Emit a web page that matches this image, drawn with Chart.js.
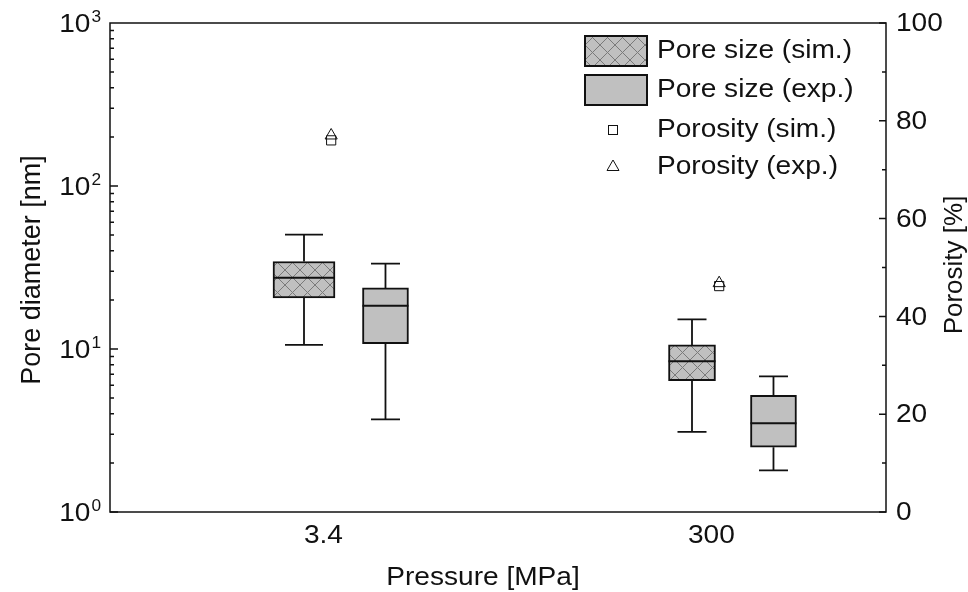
<!DOCTYPE html>
<html>
<head>
<meta charset="utf-8">
<script src="https://cdn.jsdelivr.net/npm/chart.js@4.4.1/dist/chart.umd.min.js"></script>
<style>
html, body { margin: 0; padding: 0; background: #fff; }
</style>
</head>
<body>
<canvas id="myChart" width="968" height="592"></canvas>
<script>
// pressure categories [MPa]
const categories = ['3.4', '300'];
// pore diameter box stats [nm]: [min, q1, median, q3, max]
const poreSim = [[10.6, 20.6, 27.4, 34.4, 50.3], [3.1, 6.4, 8.4, 10.6, 15.2]];
const poreExp = [[3.7, 10.8, 18.4, 23.7, 33.4], [1.8, 2.5, 3.5, 5.2, 6.8]];
// porosity [%]
const porositySim = [76.0, 46.2];
const porosityExp = [77.0, 46.8];
// tick labels
const leftTicks = [1, 10, 100, 1000];
const leftTickExp = ['0', '1', '2', '3'];
const rightTicks = [0, 20, 40, 60, 80, 100];
const legendNames = ['Pore size (sim.)', 'Pore size (exp.)', 'Porosity (sim.)', 'Porosity (exp.)'];

// layout of the category slots on the x scale
const catPos = [1, 3];
const simShift = -0.1, expShift = 0.32, markShift = 0.04;
const simWidth = [62, 47], expWidth = [46, 46];
const simCap = [38, 29], expCap = [29, 29];

const FONT = '"Liberation Sans", Arial, sans-serif';
const FSIZE = 26;
const SX = 1.08;       // text in the original is slightly wide
const INK = '#111';
const BOXFILL = '#c0c0c0';

//////////////////////
// Crosshatch fill  //
//////////////////////
const makeHatch = () => {
    const c = document.createElement('canvas');
    c.width = 15; c.height = 15;
    const g = c.getContext('2d');
    g.fillStyle = BOXFILL;
    g.fillRect(0, 0, 15, 15);
    g.strokeStyle = '#7a7a7a';
    g.lineWidth = 1;
    g.beginPath();
    g.moveTo(0, 0); g.lineTo(15, 15);
    g.moveTo(15, 0); g.lineTo(0, 15);
    g.stroke();
    return document.getElementById('myChart').getContext('2d').createPattern(c, 'repeat');
};
const hatch = makeHatch();

////////////////////
// Build datasets //
////////////////////
let datasets = [];
categories.map((cat, i) => {
    datasets.push({
        type: 'bar',
        label: legendNames[0],
        data: [{x: catPos[i] + simShift, y: [poreSim[i][1], poreSim[i][3]]}],
        backgroundColor: hatch,
        borderColor: INK,
        borderWidth: 2,
        borderSkipped: false,
        barThickness: simWidth[i],
        grouped: false,
        box: poreSim[i],
        cap: simCap[i],
        yAxisID: 'y'
    });
    datasets.push({
        type: 'bar',
        label: legendNames[1],
        data: [{x: catPos[i] + expShift, y: [poreExp[i][1], poreExp[i][3]]}],
        backgroundColor: BOXFILL,
        borderColor: INK,
        borderWidth: 2,
        borderSkipped: false,
        barThickness: expWidth[i],
        grouped: false,
        box: poreExp[i],
        cap: expCap[i],
        yAxisID: 'y'
    });
});
datasets.push({
    type: 'scatter',
    label: legendNames[2],
    data: porositySim.map((v, i) => ({x: catPos[i] + markShift, y: v})),
    pointStyle: 'rect',
    pointRadius: 6.5,
    backgroundColor: 'rgba(0,0,0,0)',
    borderColor: INK,
    borderWidth: 1,
    yAxisID: 'y2'
});
datasets.push({
    type: 'scatter',
    label: legendNames[3],
    data: porosityExp.map((v, i) => ({x: catPos[i] + markShift, y: v})),
    pointStyle: 'triangle',
    pointRadius: 7,
    backgroundColor: 'rgba(0,0,0,0)',
    borderColor: INK,
    borderWidth: 1,
    yAxisID: 'y2'
});

/////////////////////////////
// Whiskers and median bar //
/////////////////////////////
const boxPlugin = {
    id: 'boxWhiskers',
    afterDatasetsDraw(chart) {
        const ctx = chart.ctx;
        const ys = chart.scales.y;
        ctx.save();
        ctx.strokeStyle = INK;
        chart.data.datasets.forEach((ds, di) => {
            if (!ds.box) return;
            const el = chart.getDatasetMeta(di).data[0];
            const x = el.x, half = el.width / 2, capHalf = ds.cap / 2;
            const [mn, q1, med, q3, mx] = ds.box.map(v => ys.getPixelForValue(v));
            ctx.lineWidth = 1.8;
            ctx.beginPath();
            ctx.moveTo(x, q3); ctx.lineTo(x, mx);
            ctx.moveTo(x - capHalf, mx); ctx.lineTo(x + capHalf, mx);
            ctx.moveTo(x, q1); ctx.lineTo(x, mn);
            ctx.moveTo(x - capHalf, mn); ctx.lineTo(x + capHalf, mn);
            ctx.stroke();
            ctx.lineWidth = 2;
            ctx.beginPath();
            ctx.moveTo(x - half, med); ctx.lineTo(x + half, med);
            ctx.stroke();
        });
        ctx.restore();
    }
};

// text helper, widened a little like the original
const drawText = (ctx, str, x, y, align, size, rot) => {
    ctx.save();
    ctx.translate(x, y);
    if (rot) ctx.rotate(rot);
    else ctx.scale(SX, 1);
    ctx.font = (size || FSIZE) + 'px ' + FONT;
    ctx.textAlign = align;
    ctx.fillText(str, 0, 0);
    const w = ctx.measureText(str).width * (rot ? 1 : SX);
    ctx.restore();
    return w;
};

////////////////////////////////////////////
// Frame, inward ticks, labels and legend //
////////////////////////////////////////////
const framePlugin = {
    id: 'frame',
    afterDraw(chart) {
        const ctx = chart.ctx;
        const a = chart.chartArea;
        const xs = chart.scales.x, ys = chart.scales.y, y2 = chart.scales.y2;
        ctx.save();
        ctx.strokeStyle = INK;
        ctx.lineWidth = 1.5;
        ctx.strokeRect(a.left, a.top, a.right - a.left, a.bottom - a.top);
        ctx.beginPath();
        for (let d = 0; d < 3; d++) {
            for (let m = 1; m <= 9; m++) {
                const py = ys.getPixelForValue(m * Math.pow(10, d));
                const len = m === 1 ? 8 : 4;
                ctx.moveTo(a.left, py); ctx.lineTo(a.left + len, py);
            }
        }
        for (let v = 0; v <= 100; v += 10) {
            const py = y2.getPixelForValue(v);
            const len = v % 20 === 0 ? 7 : 4;
            ctx.moveTo(a.right, py); ctx.lineTo(a.right - len, py);
        }
        ctx.stroke();

        ctx.fillStyle = INK;
        ctx.textBaseline = 'middle';
        // x tick labels
        categories.map((c, i) => drawText(ctx, c, xs.getPixelForValue(catPos[i]), 536, 'center'));
        // left tick labels 10^n
        leftTicks.map((v, i) => {
            const py = ys.getPixelForValue(v);
            ctx.textBaseline = 'alphabetic';
            const ew = drawText(ctx, leftTickExp[i], 101, py - 1, 'right', 16);
            ctx.textBaseline = 'middle';
            drawText(ctx, '10', 101 - ew - 1, py + 2, 'right');
        });
        // right tick labels
        rightTicks.map((v) => drawText(ctx, String(v), 896, y2.getPixelForValue(v) + 1, 'left'));

        // axis titles
        drawText(ctx, 'Pressure [MPa]', 483, 578, 'center');
        drawText(ctx, 'Pore diameter [nm]', 33, 270, 'center', 27, -Math.PI / 2);
        drawText(ctx, 'Porosity [%]', 955, 265, 'center', 26, -Math.PI / 2);

        // legend
        ctx.lineWidth = 2;
        ctx.fillStyle = hatch;
        ctx.fillRect(585, 36, 62, 30);
        ctx.strokeRect(585, 36, 62, 30);
        ctx.fillStyle = BOXFILL;
        ctx.fillRect(585, 75, 62, 30);
        ctx.strokeRect(585, 75, 62, 30);
        ctx.lineWidth = 1;
        ctx.strokeRect(608.5, 125.5, 9, 9);
        ctx.beginPath();
        ctx.moveTo(613, 160); ctx.lineTo(619, 170.5); ctx.lineTo(607, 170.5); ctx.closePath();
        ctx.stroke();
        ctx.fillStyle = INK;
        const rows = [51, 90, 130, 167];
        legendNames.map((n, i) => drawText(ctx, n, 657, rows[i], 'left'));
        ctx.restore();
    }
};

const myChart = new Chart('myChart', {
    type: 'bar',
    data: {datasets: datasets},
    options: {
        responsive: false,
        animation: false,
        devicePixelRatio: 1,
        layout: {padding: {top: 23, left: 0, right: 0, bottom: 0}},
        plugins: {legend: {display: false}, tooltip: {enabled: false}},
        scales: {
            x: {
                type: 'linear',
                min: -0.1,
                max: 3.9,
                offset: false,
                grid: {display: false, drawTicks: false},
                border: {display: false},
                ticks: {display: false},
                afterFit: (s) => { s.height = 80; }
            },
            y: {
                type: 'logarithmic',
                position: 'left',
                min: 1,
                max: 1000,
                grid: {display: false, drawTicks: false},
                border: {display: false},
                ticks: {display: false},
                afterFit: (s) => { s.width = 110; }
            },
            y2: {
                type: 'linear',
                position: 'right',
                min: 0,
                max: 100,
                grid: {display: false, drawTicks: false},
                border: {display: false},
                ticks: {display: false},
                afterFit: (s) => { s.width = 82; }
            }
        }
    },
    plugins: [boxPlugin, framePlugin]
});
</script>
</body>
</html>
